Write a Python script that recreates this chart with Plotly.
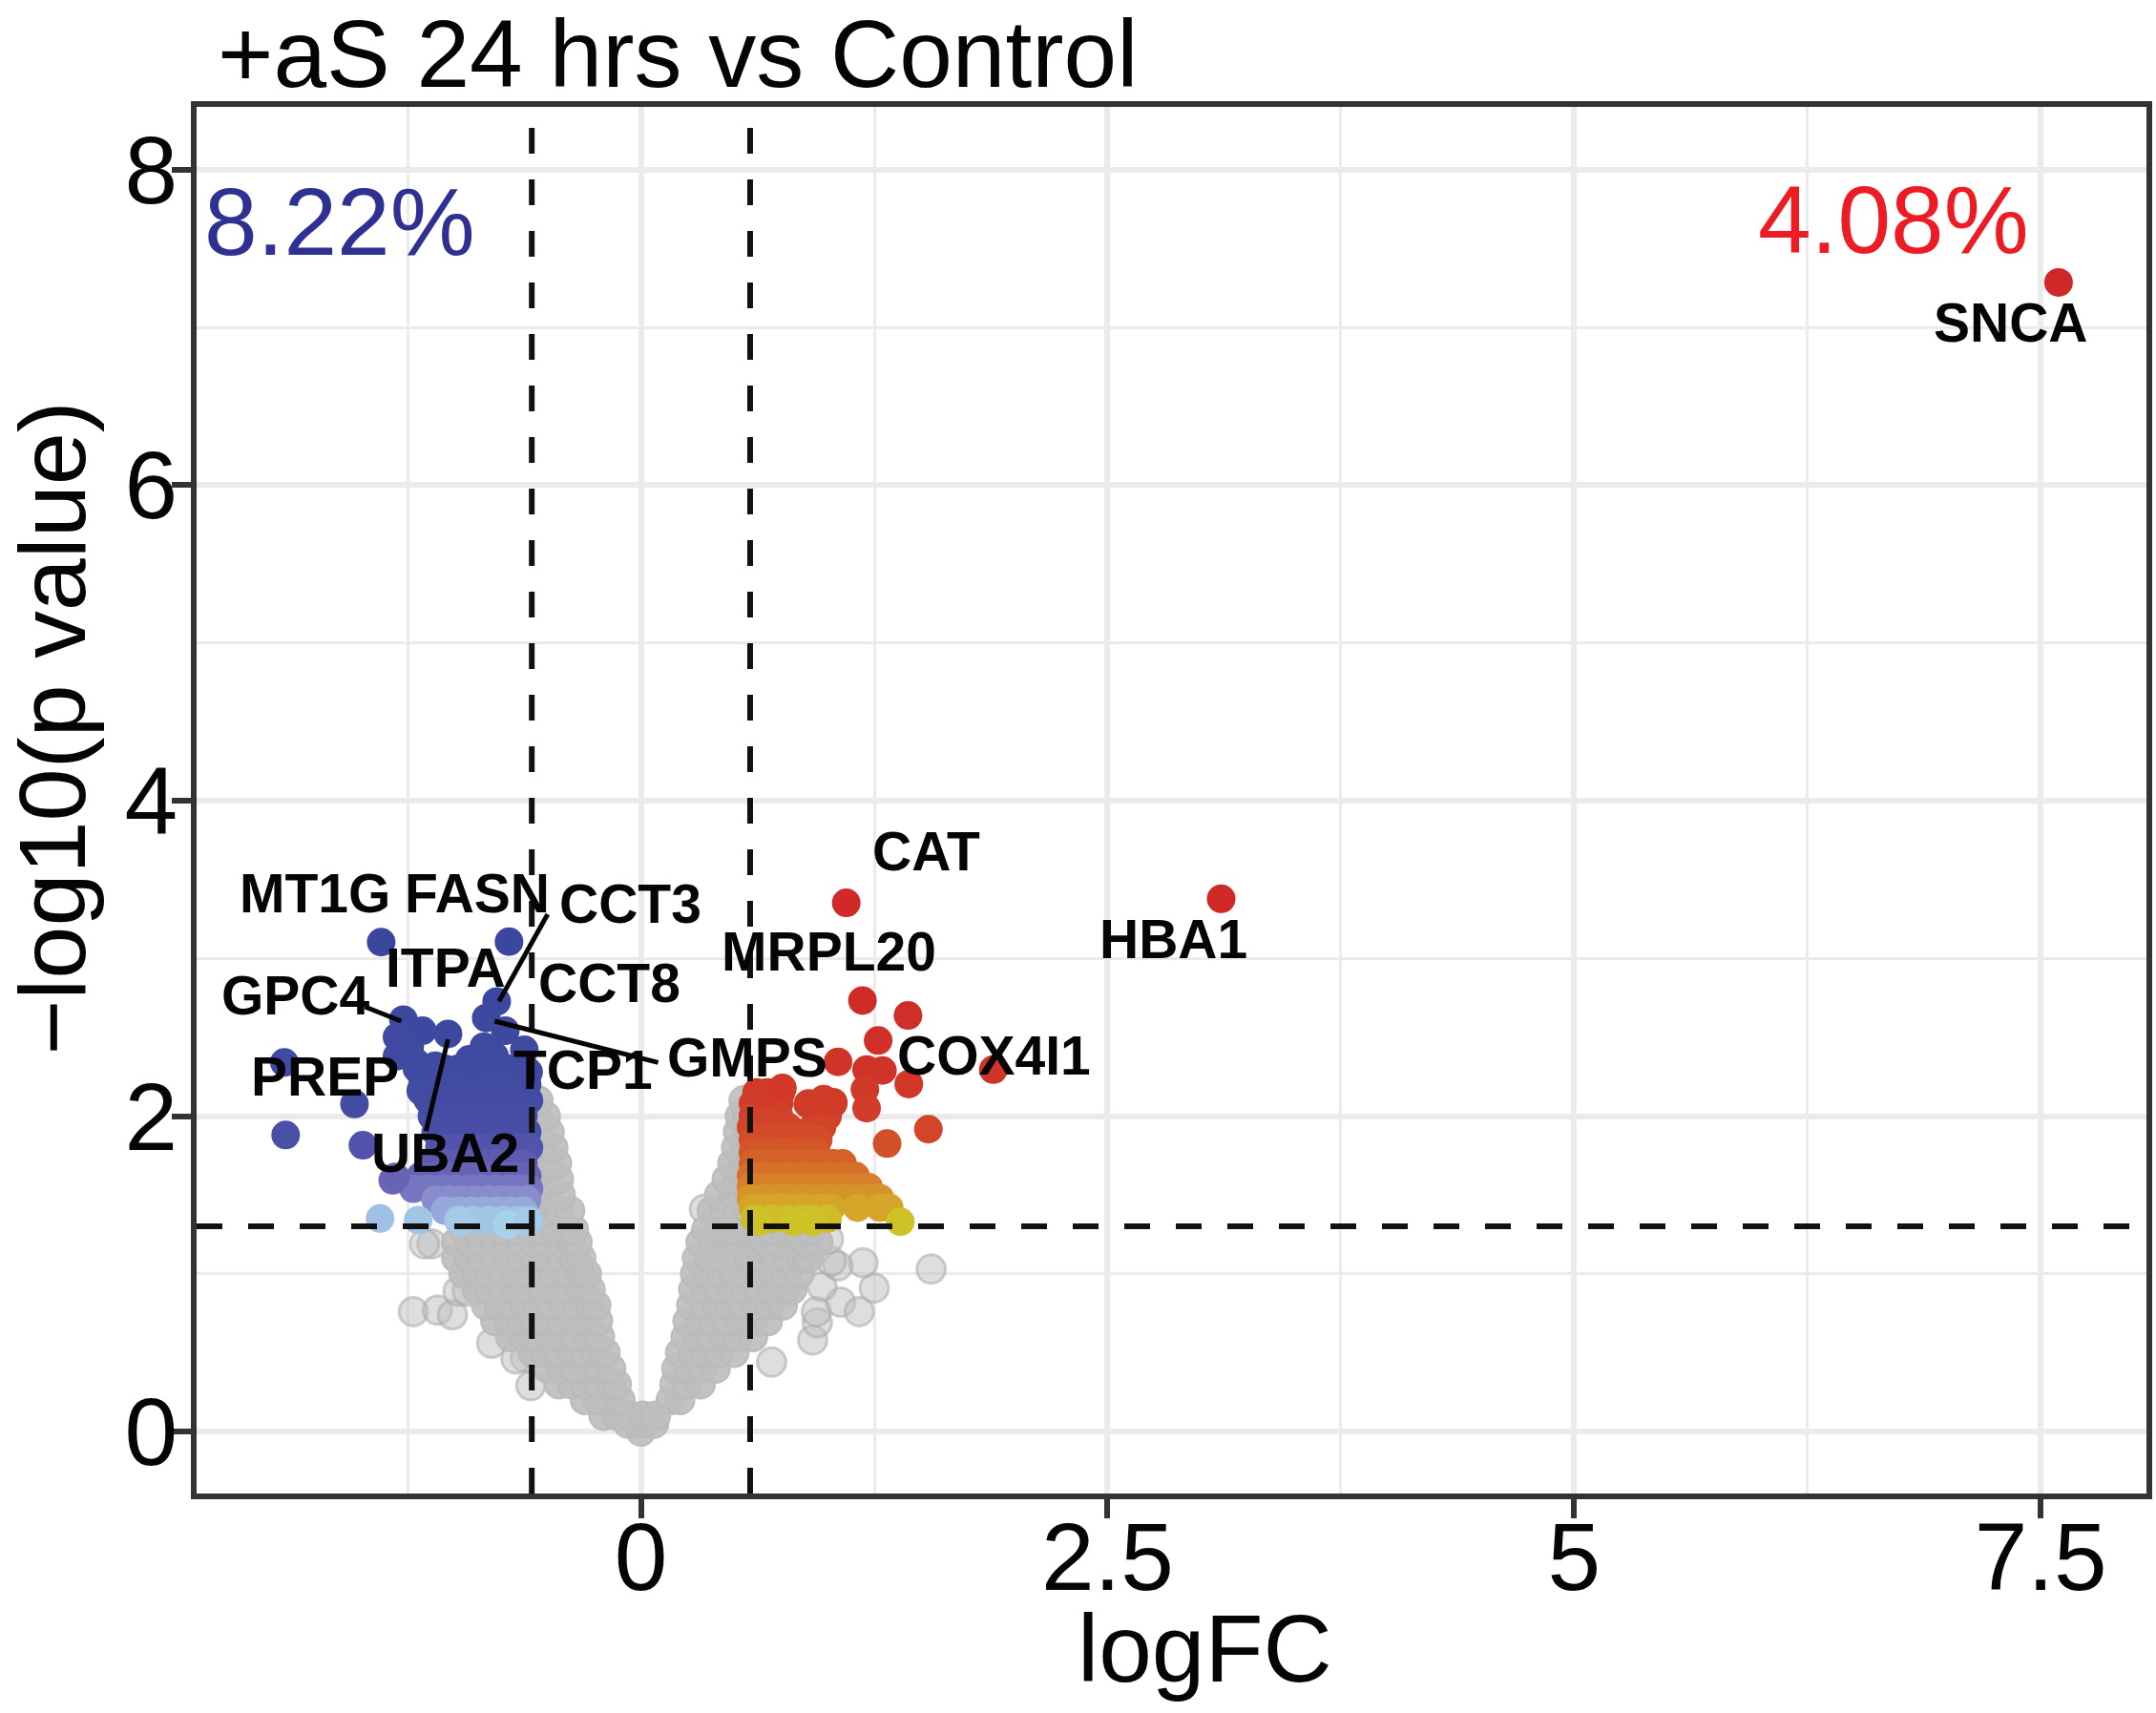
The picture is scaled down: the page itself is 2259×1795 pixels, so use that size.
import plotly.graph_objects as go

# ---------------- data ----------------
# non-significant genes (grey), typed row by row: each row has one -log10(p) value and its logFC values
gray_row_y = [0.00, 0.05, 0.10, 0.20, 0.30, 0.40, 0.50, 0.60, 0.70, 0.80, 0.90, 1.00, 1.10, 1.20, 1.28,
              1.40, 1.50, 1.60, 1.70, 1.80, 1.90, 2.00, 2.10]
gray_row_x = [
    [0.00],
    [-0.07, 0.00, 0.07],
    [-0.20, -0.13, -0.06, 0.01, 0.08],
    [-0.30, -0.23, -0.16, -0.11, 0.16, 0.21],
    [-0.44, -0.37, -0.30, -0.23, -0.16, -0.13, 0.18, 0.25, 0.32],
    [-0.50, -0.43, -0.36, -0.29, -0.22, -0.16, 0.19, 0.26, 0.33, 0.40],
    [-0.58, -0.51, -0.44, -0.37, -0.30, -0.24, -0.19, 0.21, 0.28, 0.35, 0.42, 0.50],
    [-0.70, -0.63, -0.56, -0.49, -0.42, -0.35, -0.28, -0.22, 0.24, 0.31, 0.38, 0.45, 0.52, 0.60],
    [-0.78, -0.71, -0.64, -0.57, -0.50, -0.43, -0.36, -0.29, -0.23, 0.25, 0.32, 0.39, 0.46, 0.53, 0.60, 0.68],
    [-0.83, -0.76, -0.69, -0.62, -0.55, -0.48, -0.41, -0.34, -0.27, -0.24, 0.27, 0.34, 0.41, 0.48, 0.55, 0.62, 0.69, 0.76],
    [-0.88, -0.81, -0.74, -0.67, -0.60, -0.53, -0.46, -0.39, -0.32, -0.27, 0.28, 0.35, 0.42, 0.49, 0.56, 0.63, 0.70, 0.77, 0.81],
    [-0.95, -0.88, -0.81, -0.74, -0.67, -0.60, -0.53, -0.46, -0.39, -0.32, -0.29, 0.29, 0.36, 0.43, 0.50, 0.57, 0.64, 0.71, 0.78, 0.85],
    [-0.99, -0.92, -0.85, -0.78, -0.71, -0.64, -0.57, -0.50, -0.43, -0.36, -0.32, 0.30, 0.37, 0.44, 0.51, 0.58, 0.65, 0.72, 0.79, 0.86, 0.90],
    [-0.99, -0.92, -0.85, -0.78, -0.71, -0.64, -0.57, -0.50, -0.43, -0.37, -0.34, 0.32, 0.39, 0.46, 0.53, 0.60, 0.67, 0.74, 0.81, 0.88, 0.95],
    [-0.95, -0.88, -0.81, -0.74, -0.67, -0.60, -0.53, -0.46, -0.40, -0.36, 0.35, 0.42, 0.49, 0.56, 0.63, 0.70, 0.77, 0.84, 0.91],
    [-0.58, -0.51, -0.44, -0.38, 0.38, 0.45, 0.52, 0.58],
    [-0.58, -0.51, -0.43, 0.42, 0.50, 0.58],
    [-0.58, -0.51, -0.44, 0.46, 0.52, 0.58],
    [-0.58, -0.51, -0.45, 0.49, 0.55, 0.58],
    [-0.58, -0.52, -0.47, 0.51, 0.57],
    [-0.57, -0.49, 0.52, 0.58],
    [-0.56, -0.51, 0.53, 0.57],
    [-0.55, 0.55],
]
gray_extra_x = [-1.22, -1.09, -1.01, -1.12, -1.16, -0.59, -0.62, -0.98, -0.93, -0.80, -0.67,
                0.70, 0.92, 0.945, 0.94, 1.07, 1.17, 1.25, 0.97, 1.19, 1.055, 1.02, 1.555, 1.005, 0.34, 0.41]
gray_extra_y = [0.76, 0.77, 0.74, 1.19, 1.19, 0.29, 0.47, 0.89, 0.89, 0.56, 0.46,
                0.44, 0.58, 0.69, 0.76, 0.82, 0.76, 0.91, 0.92, 1.07, 1.05, 1.08, 1.03, 1.22, 1.41, 1.25]

# down-regulated genes (blue)
down_row_y = [2.30, 2.20, 2.10, 2.00, 1.90, 1.80, 1.70, 1.62, 1.54, 1.47, 1.40, 1.34]
down_row_x = [
    [-1.20, -1.12, -1.05, -0.98, -0.91, -0.84, -0.77, -0.70, -0.62],
    [-1.17, -1.10, -1.03, -0.96, -0.89, -0.82, -0.75, -0.68, -0.61],
    [-1.14, -1.07, -1.00, -0.93, -0.86, -0.79, -0.72, -0.65, -0.60],
    [-1.12, -1.05, -0.98, -0.91, -0.84, -0.77, -0.70, -0.63],
    [-1.10, -1.03, -0.96, -0.89, -0.82, -0.75, -0.68, -0.61],
    [-1.08, -1.01, -0.94, -0.87, -0.80, -0.73, -0.66, -0.60],
    [-1.12, -1.05, -0.98, -0.91, -0.84, -0.77, -0.70, -0.63],
    [-1.18, -1.10, -1.03, -0.96, -0.89, -0.82, -0.75, -0.68, -0.61],
    [-1.22, -1.14, -1.06, -0.99, -0.92, -0.85, -0.78, -0.71, -0.64, -0.60],
    [-1.10, -1.03, -0.96, -0.89, -0.82, -0.75, -0.68, -0.61],
    [-1.05, -0.98, -0.91, -0.84, -0.77, -0.70, -0.63],
    [-0.98, -0.90, -0.82, -0.74, -0.66, -0.60],
]
down_extra_x = [-1.392, -0.707, -0.773, -0.829, -0.727, -1.273, -1.171, -1.034, -1.307, -1.239, -1.307,
                -1.205, -0.625, -0.602, -0.841, -0.920, -0.784, -1.102, -1.148, -1.535, -1.911, -1.904,
                -1.490, -1.330, -1.316, -1.180, -1.398, -1.194, -0.966, -0.715, -0.602]
down_extra_y = [3.103, 3.106, 2.727, 2.622, 2.541, 2.612, 2.541, 2.521, 2.501, 2.441, 2.380,
                2.340, 2.420, 2.280, 2.441, 2.360, 2.380, 2.320, 2.118, 2.077, 2.340, 1.880,
                1.815, 1.593, 1.615, 2.160, 1.351, 1.341, 1.331, 1.311, 1.331]

# up-regulated genes (yellow to red)
up_row_y = [2.15, 2.08, 2.00, 1.93, 1.85, 1.77, 1.70, 1.62, 1.55, 1.48, 1.42, 1.35, 1.33]
up_row_x = [
    [0.62, 0.68, 0.75],
    [0.60, 0.67, 0.74, 0.90, 0.98, 1.03],
    [0.60, 0.67, 0.74, 0.95, 1.00],
    [0.59, 0.65, 0.72, 0.79, 0.92, 0.97],
    [0.60, 0.67, 0.74, 0.81, 0.90, 0.95],
    [0.60, 0.67, 0.74, 0.81, 0.88, 0.94],
    [0.60, 0.67, 0.74, 0.81, 0.88, 0.95, 1.03, 1.08],
    [0.59, 0.66, 0.73, 0.80, 0.87, 0.94, 1.01, 1.08, 1.15],
    [0.59, 0.66, 0.73, 0.80, 0.87, 0.94, 1.01, 1.08, 1.15, 1.22],
    [0.59, 0.66, 0.73, 0.80, 0.87, 0.94, 1.01, 1.08, 1.15, 1.22, 1.28],
    [0.60, 0.67, 0.74, 0.81, 0.88, 0.95, 1.02, 1.16, 1.28, 1.33],
    [0.61, 0.70, 0.78, 0.86, 0.92, 1.00],
    [0.63, 0.82, 0.92, 1.39],
]
up_extra_x = [1.100, 3.109, 7.596, 1.187, 1.431, 1.271, 1.888, 1.056, 1.209, 1.294, 1.435, 1.200,
              1.209, 1.540, 1.319, 0.673, 0.758, 0.894, 0.979, 1.030]
up_extra_y = [3.352, 3.378, 7.286, 2.733, 2.638, 2.479, 2.295, 2.344, 2.295, 2.289, 2.203, 2.169,
              2.050, 1.917, 1.826, 2.148, 2.178, 2.077, 2.108, 2.088]

# gene labels (text, label-centre logFC, label-centre -log10 p)
label_text = ["SNCA", "HBA1", "CAT", "MRPL20", "COX4I1", "GMPS", "TCP1", "CCT8", "CCT3",
              "FASN", "MT1G", "ITPA", "GPC4", "PREP", "UBA2"]
label_x = [7.343, 2.851, 1.530, 1.005, 1.894, 0.571, -0.311, -0.168, -0.056,
           -0.877, -1.747, -1.048, -1.848, -1.693, -1.050]
label_y = [7.032, 3.123, 3.679, 3.044, 2.384, 2.372, 2.293, 2.847, 3.346,
           3.413, 3.413, 2.941, 2.765, 2.251, 1.770]
# repel segments: (x0, y0, x1, y1)
segments = [(-0.500, 3.280, -0.761, 2.727),
            (-1.479, 2.693, -1.285, 2.602),
            (-1.034, 2.487, -1.152, 1.906),
            (-0.784, 2.602, 0.092, 2.340)]

fc_cut = 0.585
p_cut = 0.05
p_line = 1.301
x_ticks = [0, 2.5, 5, 7.5]
x_ticktext = ["0", "2.5", "5", "7.5"]
y_ticks = [0, 2, 4, 6, 8]
pct_down = "8.22%"
pct_up = "4.08%"
title_text = "+aS 24 hrs vs Control"


def flatten(rows_y, rows_x):
    xs, ys = [], []
    for yv, row in zip(rows_y, rows_x):
        for xv in row:
            xs.append(xv)
            ys.append(yv)
    return xs, ys


gx, gy = flatten(gray_row_y, gray_row_x)
dx, dy = flatten(down_row_y, down_row_x)
dx, dy = dx + down_extra_x, dy + down_extra_y
ux, uy = flatten(up_row_y, up_row_x)
ux, uy = ux + up_extra_x, uy + up_extra_y
dp = [10 ** (-v) for v in dy]
up_p = [10 ** (-v) for v in uy]

FONT = "Liberation Sans, Arial, sans-serif"
MS = 30

fig = go.Figure()
# scattered grey genes (behind)
fig.add_trace(go.Scatter(
    x=gray_extra_x, y=gray_extra_y, mode="markers", hoverinfo="skip",
    marker=dict(size=MS, color="rgba(190,190,190,0.5)",
                line=dict(color="rgba(170,170,170,0.55)", width=3))))
# dense grey core
fig.add_trace(go.Scatter(
    x=gx, y=gy, mode="markers", hoverinfo="skip",
    marker=dict(size=MS, color="rgba(190,190,190,0.92)",
                line=dict(color="rgba(186,186,186,0.92)", width=2))))
fig.add_trace(go.Scatter(
    x=dx, y=dy, mode="markers", hoverinfo="skip",
    marker=dict(size=MS, color=dp, cmin=0, cmax=p_cut, line=dict(width=0),
                colorscale=[[0.0, "rgb(58,71,158)"], [0.25, "rgb(72,78,165)"],
                            [0.5, "rgb(105,100,182)"], [0.7, "rgb(140,145,208)"],
                            [0.88, "rgb(160,190,228)"], [1.0, "rgb(168,216,234)"]])))
fig.add_trace(go.Scatter(
    x=ux, y=uy, mode="markers", hoverinfo="skip",
    marker=dict(size=MS, color=up_p, cmin=0, cmax=p_cut, line=dict(width=0),
                colorscale=[[0.0, "rgb(207,40,40)"], [0.25, "rgb(210,70,40)"],
                            [0.5, "rgb(215,115,40)"], [0.7, "rgb(214,155,42)"],
                            [0.88, "rgb(208,185,40)"], [1.0, "rgb(205,205,38)"]])))

dash = "27px,27px"
shapes = [
    dict(type="line", xref="x", yref="paper", x0=-fc_cut, x1=-fc_cut, y0=0, y1=1,
         line=dict(color="#111111", width=6, dash=dash), layer="above"),
    dict(type="line", xref="x", yref="paper", x0=fc_cut, x1=fc_cut, y0=0, y1=1,
         line=dict(color="#111111", width=6, dash=dash), layer="above"),
    dict(type="line", xref="paper", yref="y", x0=0, x1=1, y0=p_line, y1=p_line,
         line=dict(color="#111111", width=6, dash=dash), layer="above"),
]
for (x0, y0, x1, y1) in segments:
    shapes.append(dict(type="line", xref="x", yref="y", x0=x0, y0=y0, x1=x1, y1=y1,
                       line=dict(color="#050505", width=5), layer="above"))

W, H = 2259, 1795
L, R, T, B = 206, 4, 112, 230
PW, PH = W - L - R, H - T - B


def px_x(p):
    return (p - L) / PW


def px_y(p):
    return (H - B - p) / PH


ann = []
for t, x, y in zip(label_text, label_x, label_y):
    ann.append(dict(text="<b>" + t + "</b>", x=x, y=y, xref="x", yref="y", showarrow=False,
                    xanchor="center", yanchor="middle",
                    font=dict(family=FONT, size=57, color="#050505")))
ann += [
    dict(text=title_text, x=px_x(226), y=px_y(56), xref="paper", yref="paper", showarrow=False,
         xanchor="left", yanchor="middle", font=dict(family=FONT, size=100, color="#050505")),
    dict(text=pct_down, x=px_x(212), y=px_y(232), xref="paper", yref="paper", showarrow=False,
         xanchor="left", yanchor="middle", font=dict(family=FONT, size=100, color="#2E3192")),
    dict(text=pct_up, x=px_x(2134), y=px_y(230), xref="paper", yref="paper", showarrow=False,
         xanchor="right", yanchor="middle", font=dict(family=FONT, size=100, color="#ED1C24")),
    dict(text="logFC", x=px_x(1266), y=px_y(1727), xref="paper", yref="paper", showarrow=False,
         xanchor="center", yanchor="middle", font=dict(family=FONT, size=100, color="#050505")),
    dict(text="\u2212log10(p value)", x=px_x(54), y=px_y(763), xref="paper", yref="paper",
         showarrow=False, textangle=-90, xanchor="center", yanchor="middle",
         font=dict(family=FONT, size=99, color="#050505")),
]

axis_common = dict(showline=True, mirror=True, linecolor="#333333", linewidth=6,
                   ticks="outside", ticklen=20, tickwidth=6, tickcolor="#333333",
                   showgrid=True, gridcolor="#EBEBEB", gridwidth=6, zeroline=False,
                   tickfont=dict(family=FONT, size=100, color="#050505"))

fig.update_layout(
    width=W, height=H, margin=dict(l=L, r=R, t=T, b=B, pad=0),
    paper_bgcolor="white", plot_bgcolor="white", showlegend=False,
    shapes=shapes, annotations=ann,
    xaxis=dict(range=[-2.381, 8.067], tickmode="array", tickvals=x_ticks, ticktext=x_ticktext,
               ticklabelstandoff=-45,
               minor=dict(tickmode="array", tickvals=[-1.25, 1.25, 3.75, 6.25], showgrid=True,
                          gridcolor="#EBEBEB", gridwidth=3, ticks=""),
               **axis_common),
    yaxis=dict(range=[-0.393, 8.399], tickmode="array", tickvals=y_ticks,
               ticklabelstandoff=-26,
               minor=dict(tickmode="array", tickvals=[1, 3, 5, 7], showgrid=True,
                          gridcolor="#EBEBEB", gridwidth=3, ticks=""),
               **axis_common),
)

fig.write_html("out.html")
